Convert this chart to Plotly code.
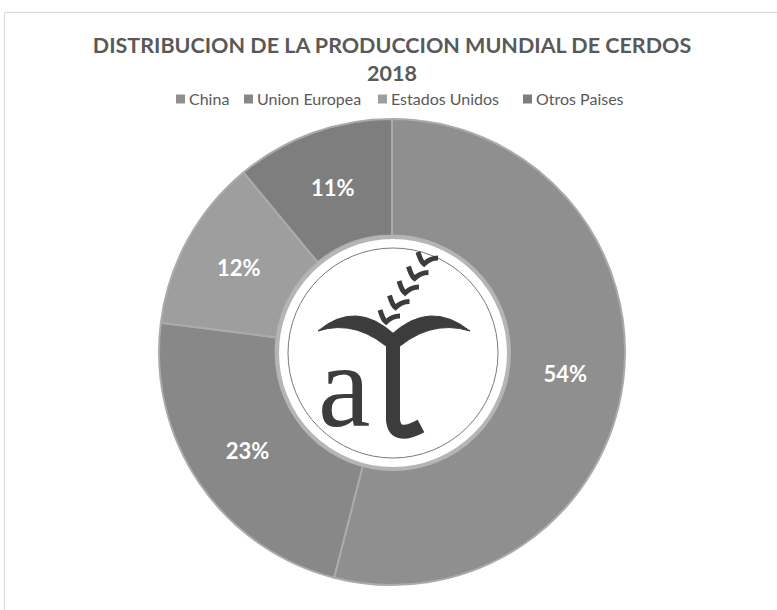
import plotly.graph_objects as go

# ---- data ----
categories = ["China", "Union Europea", "Estados Unidos", "Otros Paises"]
shares = [54, 23, 12, 11]
share_labels = ["54%", "23%", "12%", "11%"]
slice_colors = ["#8f8f8f", "#888888", "#9e9e9e", "#7e7e7e"]

W, H = 777, 610


def px(x, y):
    return x / W, 1 - y / H


def path(cmds):
    out = []
    for c in cmds:
        if isinstance(c, str):
            out.append(c)
        else:
            X, Y = px(*c)
            out.append(f"{X:.5f},{Y:.5f}")
    return " ".join(out)


cx, cy, R = 392, 352, 233

fig = go.Figure()
fig.add_trace(go.Pie(
    labels=categories,
    values=shares,
    text=share_labels,
    textinfo="text",
    textposition="inside",
    insidetextorientation="horizontal",
    textfont=dict(family="Lato", size=22, color="white", weight="bold"),
    hole=0.5,
    sort=False,
    direction="clockwise",
    rotation=0,
    marker=dict(colors=slice_colors, line=dict(color="#ababab", width=2)),
    domain=dict(x=[(cx - R) / W, (cx + R) / W], y=[1 - (cy + R) / H, 1 - (cy - R) / H]),
    showlegend=False,
))

shapes = []
# chart frame
shapes.append(dict(type="path", xref="paper", yref="paper",
                   path=path(["M", (4.5, 612), "L", (4.5, 12.5), "L", (780, 12.5)]),
                   line=dict(color="#d9d9d9", width=1)))
# logo disk
lx, ly = 393, 353
x0, y0 = px(lx - 116, ly - 116)
x1, y1 = px(lx + 116, ly + 116)
shapes.append(dict(type="circle", xref="paper", yref="paper", x0=x0, y0=y1, x1=x1, y1=y0,
                   fillcolor="white", line=dict(color="#b5b5b5", width=4)))
x0, y0 = px(lx - 105, ly - 105)
x1, y1 = px(lx + 105, ly + 105)
shapes.append(dict(type="circle", xref="paper", yref="paper", x0=x0, y0=y1, x1=x1, y1=y0,
                   fillcolor="white", line=dict(color="#7a7a7a", width=1)))
ink = "#3c3c3c"
# arms
shapes.append(dict(type="path", xref="paper", yref="paper",
                   path=path(["M", (318, 331), "Q", (356, 299), (395, 335), "L", (395, 354),
                              "Q", (358, 318), (318, 331), "Z"]),
                   fillcolor=ink, line=dict(color=ink, width=1)))
shapes.append(dict(type="path", xref="paper", yref="paper",
                   path=path(["M", (470, 331), "Q", (430, 299), (391, 335), "L", (391, 354),
                              "Q", (428, 318), (470, 331), "Z"]),
                   fillcolor=ink, line=dict(color=ink, width=1)))
# stem
shapes.append(dict(type="path", xref="paper", yref="paper",
                   path=path(["M", (393, 340), "L", (393, 420), "Q", (395, 440), (421, 426)]),
                   line=dict(color=ink, width=14)))
# wheat grains
for i in range(5):
    t = i / 4
    vx = 386 + (424 - 386) * t
    vy = 322 + (264 - 322) * t
    shapes.append(dict(type="path", xref="paper", yref="paper",
                       path=path(["M", (vx - 6, vy - 12), "Q", (vx - 3, vy - 2), (vx, vy),
                                  "Q", (vx + 6, vy - 6), (vx + 14, vy - 6)]),
                       line=dict(color=ink, width=5)))

ax, ay = px(344, 386)
fig.add_annotation(x=ax, y=ay, xref="paper", yref="paper", text="a", showarrow=False,
                   xanchor="center", yanchor="middle",
                   font=dict(family="Liberation Serif", size=118, color=ink))

# legend (built from the category list)
legend_sq_x = [176, 244, 378, 523]
legend_y = 99
for name, col, sx in zip(categories, slice_colors, legend_sq_x):
    a0, b0 = px(sx, legend_y - 4.5)
    a1, b1 = px(sx + 9, legend_y + 4.5)
    shapes.append(dict(type="rect", xref="paper", yref="paper", x0=a0, y0=b1, x1=a1, y1=b0,
                       fillcolor=col, line=dict(width=0)))
    tx, ty = px(sx + 11, legend_y)
    fig.add_annotation(x=tx, y=ty, xref="paper", yref="paper", text=name, showarrow=False,
                       xanchor="left", yanchor="middle",
                       font=dict(family="Lato", size=16, color="#595959"))

fig.update_layout(
    width=W, height=H,
    margin=dict(l=0, r=0, t=0, b=0),
    paper_bgcolor="white",
    plot_bgcolor="white",
    showlegend=False,
    title=dict(text="DISTRIBUCION DE LA PRODUCCION MUNDIAL DE CERDOS<br>2018",
               x=392 / W, xanchor="center", y=1 - 53 / H, yanchor="middle",
               font=dict(family="Lato", size=21.5, color="#595959", weight="bold")),
    shapes=shapes,
)

fig.write_html("out.html", config={"displayModeBar": False},
               post_script="document.body.style.margin='0px';")
